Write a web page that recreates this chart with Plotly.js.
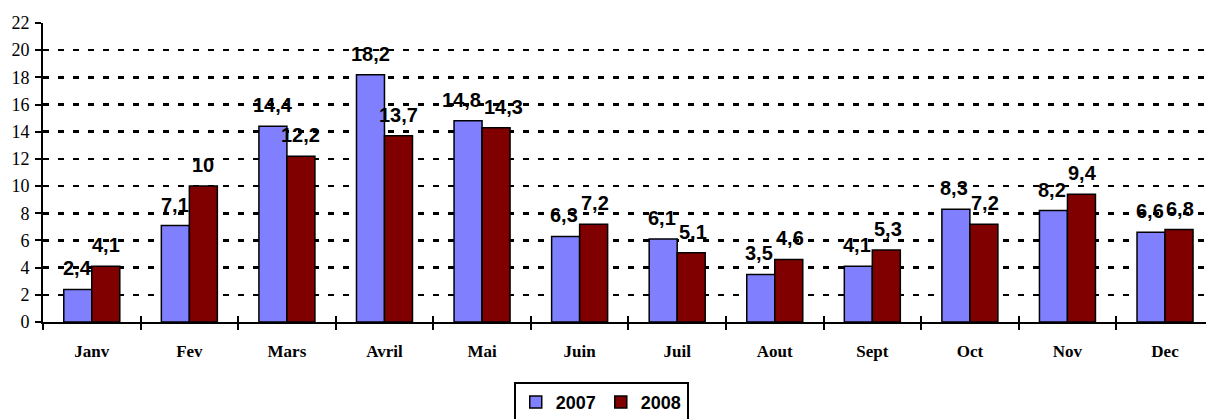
<!DOCTYPE html>
<html>
<head>
<meta charset="utf-8">
<script src="https://cdn.plot.ly/plotly-3.0.1.min.js"></script>
<style>html,body{margin:0;padding:0;background:#fff;}#chart{width:1206px;height:419px;}</style>
</head>
<body>
<div id="chart"></div>
<script>
const months = ["Janv","Fev","Mars","Avril","Mai","Juin","Juil","Aout","Sept","Oct","Nov","Dec"];
const values2007 = [2.4, 7.1, 14.4, 18.2, 14.8, 6.3, 6.1, 3.5, 4.1, 8.3, 8.2, 6.6];
const values2008 = [4.1, 10, 12.2, 13.7, 14.3, 7.2, 5.1, 4.6, 5.3, 7.2, 9.4, 6.8];
const seriesNames = ["2007", "2008"];
const yTicks = [0,2,4,6,8,10,12,14,16,18,20,22];

const fmt = v => String(v).replace('.', ',');

const traces = [
  {type:'bar', name:seriesNames[0], x:months, y:values2007,
   marker:{color:'#8080FF', line:{color:'#000', width:1.5}}, hoverinfo:'none'},
  {type:'bar', name:seriesNames[1], x:months, y:values2008,
   marker:{color:'#800000', line:{color:'#000', width:1.5}}, hoverinfo:'none'},
  {type:'scatter', x:months, y:values2007, xaxis:'x2', yaxis:'y2', mode:'none', showlegend:false, hoverinfo:'none'}
];

// label layout: centred over each bar, nudged apart when the pair would collide
const LABEL_SIZE = 20, BAR_HALF = 14, PX_PER_UNIT = 299 / 22;
const labelWidth = t => t.split('').reduce((w, c) => w + (c === ',' ? 0.278 : 0.556) * LABEL_SIZE, 0);
const annotations = [];
months.forEach((m, i) => {
  const t1 = fmt(values2007[i]), t2 = fmt(values2008[i]);
  let nudge = 0;
  const dy = Math.abs(values2007[i] - values2008[i]) * PX_PER_UNIT;
  if (dy < 18) {
    const need = (labelWidth(t1) + labelWidth(t2)) / 2 + 3 - 2 * BAR_HALF;
    if (need > 0) nudge = need / 2;
  }
  [[values2007[i], t1, -BAR_HALF - nudge], [values2008[i], t2, BAR_HALF + nudge]].forEach(([v, t, xs]) => {
    annotations.push({
      x: m, y: v, xref:'x', yref:'y',
      text: t, showarrow:false,
      xshift: xs, yanchor:'bottom', yshift: 8,
      font:{family:'Liberation Sans, Arial, sans-serif', size:LABEL_SIZE, color:'#000', weight:'bold'}
    });
  });
});

const xr = [-0.5, 11.42];
const layout = {
  width:1206, height:419,
  margin:{l:43, r:0, t:23, b:97, autoexpand:false},
  paper_bgcolor:'#fff', plot_bgcolor:'#fff',
  barmode:'group', bargap:0.426, bargroupgap:0,
  showlegend:true,
  legend:{orientation:'h', x:0.48, xanchor:'center', y:-0.2, yanchor:'top',
    bordercolor:'#000', borderwidth:2, bgcolor:'#fff',
    font:{family:'Liberation Sans, Arial, sans-serif', size:18, color:'#000', weight:'bold'},
    itemwidth:30, tracegroupgap:0},
  xaxis:{range:xr, type:'category', categoryorder:'array', categoryarray:months, automargin:false,
    showline:true, linecolor:'#000', linewidth:2,
    ticks:'outside', ticklen:6, tickwidth:2, tickcolor:'#000', tickson:'boundaries',
    showgrid:false, zeroline:false, ticklabelstandoff:13,
    tickfont:{family:'Liberation Serif, Times New Roman, serif', size:17, color:'#000', weight:'bold'}},
  xaxis2:{range:xr, type:'category', categoryorder:'array', categoryarray:months, overlaying:'x', automargin:false,
    showline:false, ticks:'inside', ticklen:6, tickwidth:2, tickcolor:'#000',
    tickson:'boundaries', showticklabels:false, showgrid:false, zeroline:false},
  yaxis:{range:[0,22], tickvals:yTicks, ticktext:yTicks.map(String), automargin:false,
    showline:true, linecolor:'#000', linewidth:2,
    ticks:'outside', ticklen:6, tickwidth:2, tickcolor:'#000',
    showgrid:true, gridcolor:'#000', gridwidth:2.5, griddash:'6px,9px',
    zeroline:false, ticklabelstandoff:2,
    tickfont:{family:'Liberation Serif, Times New Roman, serif', size:18, color:'#000'}},
  yaxis2:{range:[0,22], tickvals:yTicks, overlaying:'y', side:'left', automargin:false,
    showline:false, ticks:'inside', ticklen:6, tickwidth:2, tickcolor:'#000',
    showticklabels:false, showgrid:false, zeroline:false},
  annotations: annotations
};

Plotly.newPlot('chart', traces, layout, {displayModeBar:false, staticPlot:true});
</script>
</body>
</html>
